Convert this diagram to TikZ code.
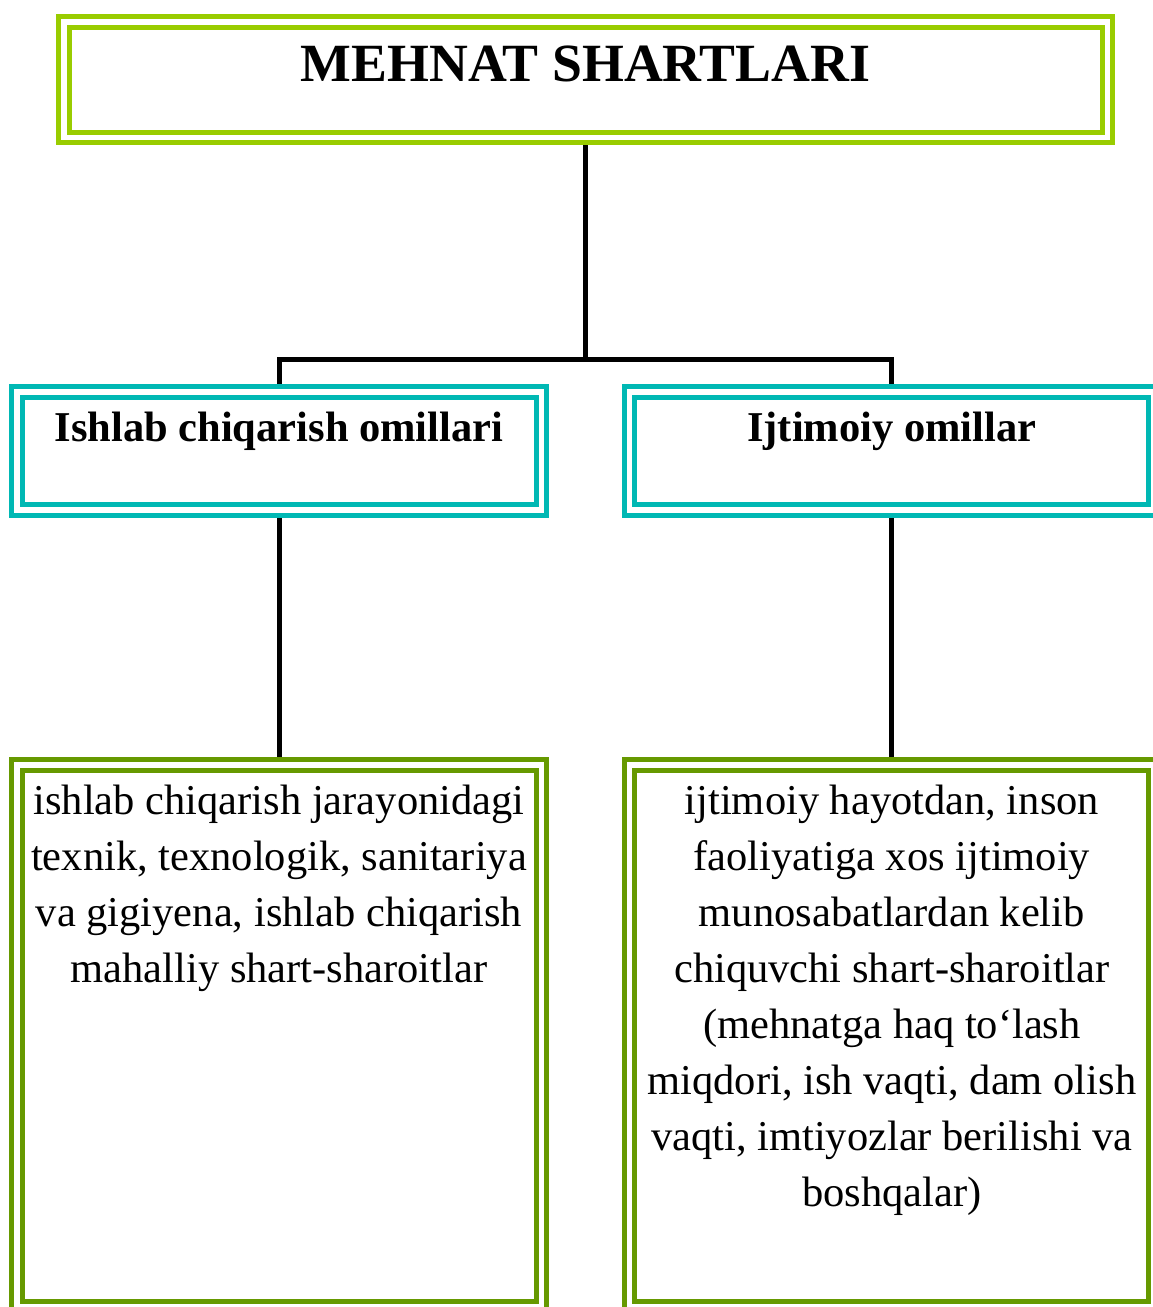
\documentclass[tikz,border=0pt]{standalone}
\usepackage{fontspec}
\setmainfont{Liberation Serif}
\usetikzlibrary{positioning}
\definecolor{titleGreen}{RGB}{153,204,0}
\definecolor{headTeal}{RGB}{0,184,180}
\definecolor{textGreen}{RGB}{102,153,0}
\tikzset{%
  % Specifications for style of nodes:
        base/.style = {rectangle, double, line width=5pt, double distance=5.5pt,
                       inner sep=0pt, outer sep=7.75pt, text centered},
    titleBox/.style = {base, draw=titleGreen, minimum width=1043.5pt,
                       text height=59.25pt, text depth=56.25pt,
                       font=\fontsize{53.8}{60}\selectfont\bfseries},
     headBox/.style = {base, draw=headTeal, minimum width=524.5pt,
                       text height=49.75pt, text depth=68.5pt,
                       font=\fontsize{42.5}{56}\selectfont\bfseries},
     textBox/.style = {base, draw=textGreen, minimum width=524.5pt,
                       minimum height=542pt,
                       font=\fontsize{42.5}{56}\selectfont},
        link/.style = {draw=black, line width=5pt},
}

\begin{document}
\begin{tikzpicture}[x=1pt, y=-1pt]
  \useasboundingbox (0,0) rectangle (1152,1307);

  \node (title)    [titleBox] at (585.5,79.5) {MEHNAT SHARTLARI};
  \node (prodHead) [headBox]  at (279,450.875) {Ishlab chiqarish omillari};
  \node (socHead)  [headBox]  at (891.875,450.875) {Ijtimoiy omillar};
  \node (prodText) [textBox]  at (279,1036)
        {\parbox[t][522pt][t]{520pt}{\centering\strut
         ishlab chiqarish jarayonidagi\\
         texnik, texnologik, sanitariya\\
         va gigiyena, ishlab chiqarish\\
         mahalliy shart-sharoitlar}};
  \node (socText)  [textBox]  at (891.875,1036)
        {\parbox[t][522pt][t]{520pt}{\centering\strut
         ijtimoiy hayotdan, inson\\
         faoliyatiga xos ijtimoiy\\
         munosabatlardan kelib\\
         chiquvchi shart-sharoitlar\\
         (mehnatga haq to‘lash\\
         miqdori, ish vaqti, dam olish\\
         vaqti, imtiyozlar berilishi va\\
         boshqalar)}};

  % Lines between the nodes
  \coordinate (fork) at (585.5,359.5);
  \draw[link]           (title.south) -- (fork);
  \draw[link]        (prodHead.north) |- (fork) -| (socHead.north);
  \draw[link]        (prodHead.south) -- (prodText.north);
  \draw[link]         (socHead.south) -- (socText.north);
\end{tikzpicture}
\end{document}
